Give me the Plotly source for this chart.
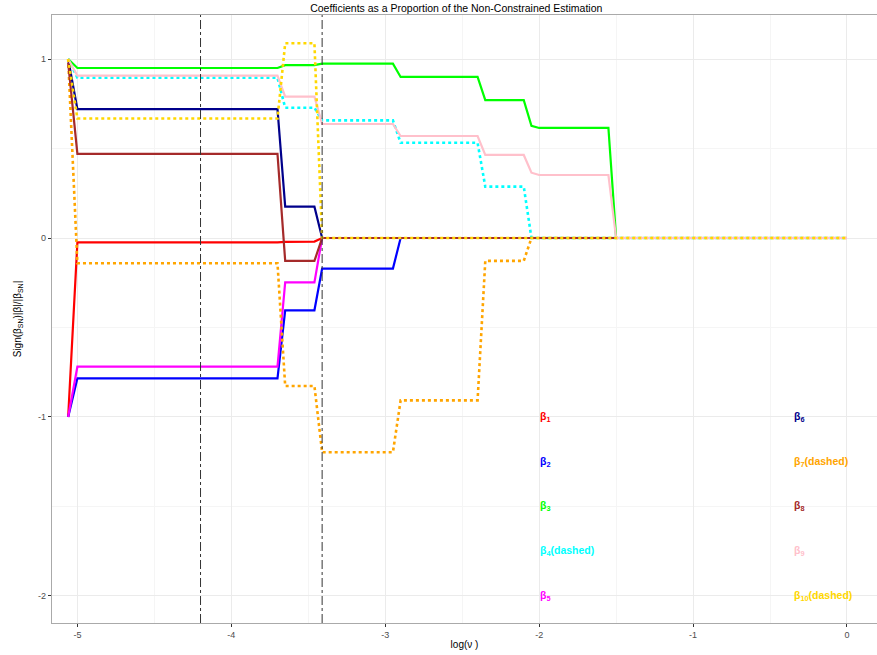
import plotly.graph_objects as go

# log(nu) knots
log_nu = [-5.06, -5.0, -3.70, -3.65, -3.46, -3.41, -2.95, -2.90, -2.40, -2.35, -2.10, -2.05, -2.0, -1.55, -1.50, 0.0]

b1 = [-1, -0.024, -0.024, -0.022, -0.02, 0, 0, 0, 0, 0, 0, 0, 0, 0, 0, 0]
b2 = [-1, -0.784, -0.784, -0.404, -0.404, -0.171, -0.171, 0, 0, 0, 0, 0, 0, 0, 0, 0]
b3 = [1, 0.95, 0.95, 0.966, 0.966, 0.974, 0.974, 0.90, 0.90, 0.77, 0.77, 0.627, 0.615, 0.615, 0, 0]
b4 = [1, 0.895, 0.895, 0.728, 0.728, 0.657, 0.657, 0.532, 0.532, 0.287, 0.287, 0, 0, 0, 0, 0]
b5 = [-1, -0.719, -0.719, -0.248, -0.248, 0, 0, 0, 0, 0, 0, 0, 0, 0, 0, 0]
b6 = [1, 0.72, 0.72, 0.175, 0.175, 0, 0, 0, 0, 0, 0, 0, 0, 0, 0, 0]
b7 = [1, -0.141, -0.141, -0.827, -0.827, -1.197, -1.197, -0.907, -0.907, -0.128, -0.128, 0, 0, 0, 0, 0]
b8 = [0.98, 0.47, 0.47, -0.128, -0.128, 0, 0, 0, 0, 0, 0, 0, 0, 0, 0, 0]
b9 = [1, 0.907, 0.907, 0.79, 0.79, 0.637, 0.637, 0.57, 0.57, 0.464, 0.464, 0.365, 0.352, 0.352, 0, 0]
b10 = [1, 0.668, 0.668, 1.088, 1.088, 0, 0, 0, 0, 0, 0, 0, 0, 0, 0, 0]

series = [b1, b2, b3, b4, b5, b6, b7, b8, b9, b10]
names = ["β<sub>1</sub>", "β<sub>2</sub>", "β<sub>3</sub>", "β<sub>4</sub>(dashed)", "β<sub>5</sub>",
         "β<sub>6</sub>", "β<sub>7</sub>(dashed)", "β<sub>8</sub>", "β<sub>9</sub>", "β<sub>10</sub>(dashed)"]
colors = ["#FF0000", "#0000FF", "#00FF00", "#00FFFF", "#FF00FF",
          "#00008B", "#FFA500", "#A52A2A", "#FFC0CB", "#FFD700"]
dashed = [False, False, False, True, False, False, True, False, False, True]

# vertical reference lines (log nu)
vlines = [-4.20, -3.41]

# legend label anchors
label_x = [-2.01] * 5 + [-0.36] * 5
label_y = [-1, -1.25, -1.5, -1.75, -2, -1, -1.25, -1.5, -1.75, -2]

FONT = "Liberation Sans Narrow, Liberation Sans, Arial"

fig = go.Figure()
for s, n, c, d in zip(series, names, colors, dashed):
    fig.add_trace(go.Scatter(
        x=log_nu, y=s, mode="lines", name=n,
        line=dict(color=c, width=2.6 if d else 2.2, dash="3px,3px" if d else "solid"),
        showlegend=False,
    ))

for v in vlines:
    fig.add_shape(type="line", xref="x", yref="paper", x0=v, x1=v, y0=0, y1=1,
                  line=dict(color="#333333", width=1, dash="dashdot"))

for n, c, lx, ly in zip(names, colors, label_x, label_y):
    fig.add_annotation(x=lx, y=ly, text="<b>" + n + "</b>", showarrow=False,
                       xanchor="left", yanchor="middle",
                       font=dict(color=c, size=10.5, family=FONT))

fig.update_layout(
    width=877, height=655,
    margin=dict(l=52, r=0, t=15, b=32, autoexpand=False),
    paper_bgcolor="white", plot_bgcolor="white",
    title=dict(text="Coefficients as a Proportion of the Non-Constrained Estimation",
               x=0.49, xanchor="center", xref="paper", y=0.9878, yanchor="middle",
               font=dict(size=10.5, family=FONT, color="black")),
    font=dict(family=FONT, size=10, color="#333333"),
)
fig.update_xaxes(
    range=[-5.165, 0.195], tickvals=[-5, -4, -3, -2, -1, 0],
    ticktext=["-5", "-4", "-3", "-2", "-1", "0"],
    showgrid=True, gridcolor="#EBEBEB", gridwidth=1,
    minor=dict(dtick=0.5, tick0=0, showgrid=True, gridcolor="#F5F5F5", gridwidth=0.6),
    zeroline=False, showline=True, linecolor="#AAAAAA", linewidth=1.2, mirror=True,
    ticks="outside", ticklen=3, tickcolor="#333333",
    tickfont=dict(size=9, family=FONT, color="#4D4D4D"),
    automargin=False,
    title=dict(text="log(ν )", font=dict(size=10, family=FONT, color="black"), standoff=2),
)
fig.update_yaxes(
    range=[-2.151, 1.246], tickvals=[-2, -1, 0, 1], ticktext=["-2", "-1", "0", "1"],
    showgrid=True, gridcolor="#EBEBEB", gridwidth=1,
    minor=dict(dtick=0.5, tick0=0, showgrid=True, gridcolor="#F5F5F5", gridwidth=0.6),
    zeroline=False, showline=True, linecolor="#AAAAAA", linewidth=1.2, mirror=True,
    ticks="outside", ticklen=3, tickcolor="#333333",
    tickfont=dict(size=9, family=FONT, color="#4D4D4D"),
    automargin=False,
    title=dict(text="Sign(β<sub>SN</sub>)|β|/|β<sub>SN</sub>|",
               font=dict(size=10, family=FONT, color="black"), standoff=14),
)

fig.write_html("out.html", config={"displayModeBar": False},
               post_script="document.body.style.margin='0';")
